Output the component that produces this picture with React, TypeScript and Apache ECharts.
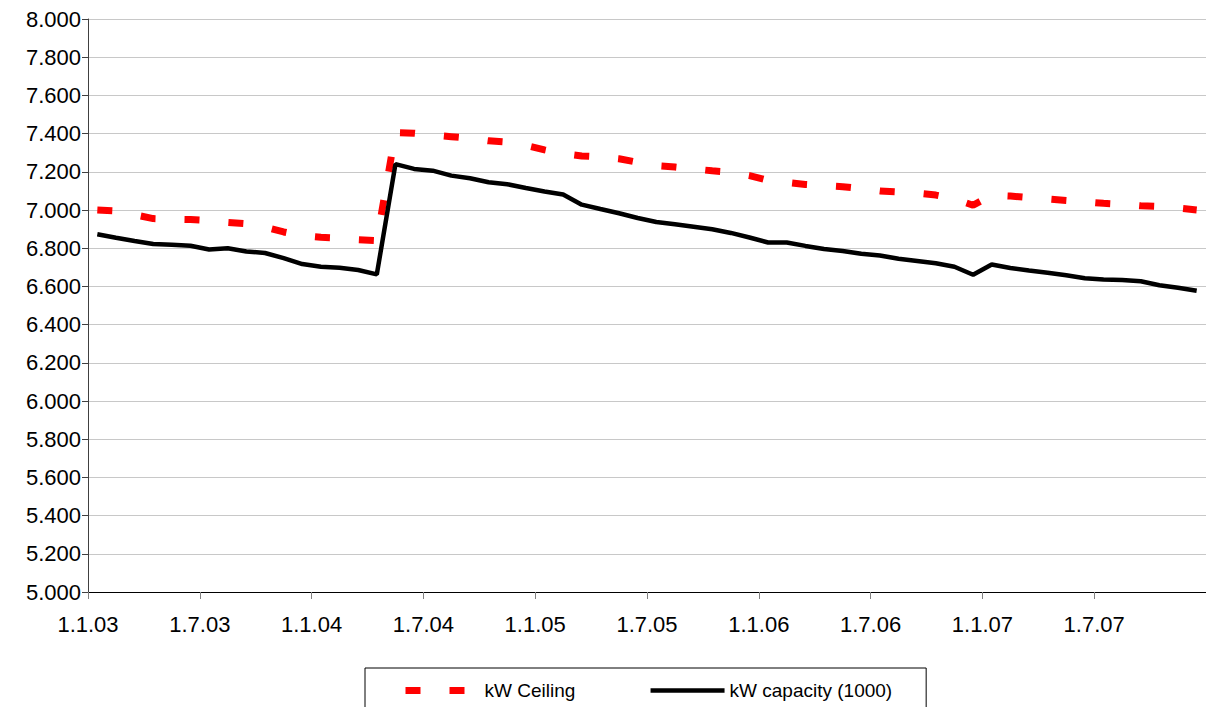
import { useEffect, useRef } from "react";
import * as echarts from "echarts";

// Tick labels, one every 6 months (German date format)
const tickLabels = [
  "1.1.03", "1.7.03", "1.1.04", "1.7.04", "1.1.05",
  "1.7.05", "1.1.06", "1.7.06", "1.1.07", "1.7.07",
];
const MONTHS_PER_TICK = 6;
const MONTH_COUNT = 60;

const seriesNames = ["kW Ceiling", "kW capacity (1000)"];

// Monthly values Jan 2003 .. Dec 2007 (thousands)
const ceiling = [
  7.000, 6.995, 6.975, 6.955, 6.952, 6.950, 6.945, 6.935, 6.928, 6.910,
  6.885, 6.865, 6.857, 6.853, 6.845, 6.840, 7.405, 7.402, 7.393, 7.384,
  7.375, 7.362, 7.355, 7.338, 7.315, 7.295, 7.283, 7.278, 7.268, 7.250,
  7.232, 7.225, 7.215, 7.205, 7.198, 7.180, 7.155, 7.145, 7.134, 7.128,
  7.122, 7.112, 7.100, 7.095, 7.088, 7.078, 7.058, 7.025, 7.078, 7.073,
  7.065, 7.058, 7.050, 7.043, 7.035, 7.030, 7.022, 7.018, 7.010, 7.000,
];

const capacity = [
  6.873, 6.855, 6.838, 6.822, 6.818, 6.813, 6.793, 6.800, 6.783, 6.775,
  6.748, 6.717, 6.703, 6.698, 6.686, 6.663, 7.240, 7.215, 7.206, 7.180,
  7.166, 7.145, 7.135, 7.115, 7.097, 7.081, 7.028, 7.005, 6.983, 6.958,
  6.937, 6.925, 6.912, 6.899, 6.880, 6.856, 6.830, 6.830, 6.812, 6.796,
  6.785, 6.771, 6.762, 6.745, 6.733, 6.721, 6.703, 6.661, 6.715, 6.696,
  6.683, 6.672, 6.658, 6.643, 6.636, 6.633, 6.627, 6.606, 6.593, 6.577,
];

const FONT = "'Liberation Sans', Arial, sans-serif";

export default function App() {
  const ref = useRef<HTMLDivElement>(null);

  useEffect(() => {
    document.body.style.margin = "0";
    document.body.style.overflow = "hidden";
    if (!ref.current) return;
    const chart = echarts.init(ref.current, null, { renderer: "svg" });

    const toPoints = (arr: number[]) => arr.map((v, i) => [i + 0.5, v]);

    chart.setOption({
      animation: false,
      backgroundColor: "#ffffff",
      textStyle: { fontFamily: FONT },
      grid: { left: 88, top: 19, width: 1120, height: 573 },
      legend: {
        left: 365,
        top: 668,
        orient: "horizontal",
        padding: [13, 34, 24, 37],
        itemGap: 73,
        itemWidth: 74,
        itemHeight: 14,
        borderColor: "#000000",
        borderWidth: 1,
        borderRadius: 0,
        selectedMode: false,
        itemStyle: { color: "transparent", borderWidth: 0 },
        textStyle: { fontSize: 19, color: "#000000", fontFamily: FONT },
        data: [
          { name: seriesNames[0], lineStyle: { width: 7, color: "#ff0000", type: [15, 29], cap: "butt" } },
          { name: seriesNames[1], lineStyle: { width: 4.5, color: "#000000", type: "solid" } },
        ],
      },
      xAxis: {
        type: "value",
        min: 0,
        max: MONTH_COUNT,
        interval: MONTHS_PER_TICK,
        axisLine: { show: true, onZero: false, lineStyle: { color: "#000000", width: 1 } },
        axisTick: { show: true, length: 7, lineStyle: { color: "#808080" } },
        axisLabel: {
          formatter: (v: number) => tickLabels[Math.round(v / MONTHS_PER_TICK)] ?? "",
          fontSize: 22,
          color: "#000000",
          margin: 21,
          showMaxLabel: false,
          fontFamily: FONT,
        },
        splitLine: { show: false },
      },
      yAxis: {
        type: "value",
        min: 5,
        max: 8,
        interval: 0.2,
        axisLine: { show: true, lineStyle: { color: "#404040", width: 1 } },
        axisTick: { show: true, length: 6, lineStyle: { color: "#404040" } },
        axisLabel: {
          formatter: (v: number) => v.toFixed(3),
          fontSize: 22,
          color: "#000000",
          margin: 7,
          fontFamily: FONT,
        },
        splitLine: { show: true, lineStyle: { color: "#c8c8c8", width: 1 } },
      },
      series: [
        {
          name: seriesNames[0],
          type: "line",
          data: toPoints(ceiling),
          symbol: "none",
          showSymbol: false,
          itemStyle: { color: "#ff0000" },
          lineStyle: { color: "#ff0000", width: 7, type: [15, 29], cap: "butt" },
          z: 2,
        },
        {
          name: seriesNames[1],
          type: "line",
          data: toPoints(capacity),
          symbol: "none",
          showSymbol: false,
          itemStyle: { color: "#000000" },
          lineStyle: { color: "#000000", width: 4.5 },
          z: 3,
        },
      ],
    });

    return () => chart.dispose();
  }, []);

  return <div ref={ref} style={{ width: 1206, height: 707 }} />;
}
